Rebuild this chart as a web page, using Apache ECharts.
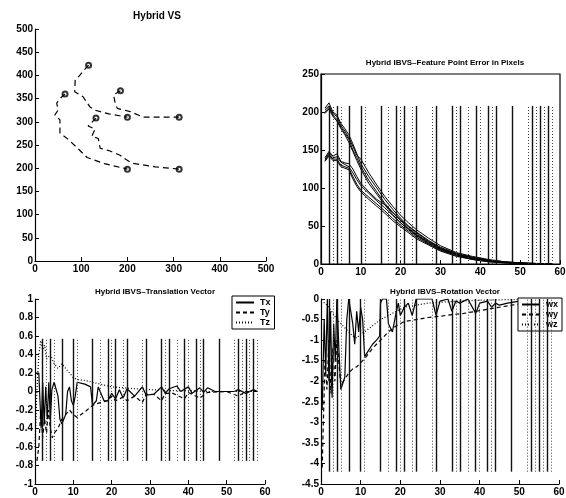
<!DOCTYPE html>
<html lang="en">
<head>
<meta charset="UTF-8">
<title>Hybrid VS</title>
<style>
  html, body { margin: 0; padding: 0; background: #fff; }
  #main { width: 566px; height: 498px; }
</style>
</head>
<body>
<div id="main"></div>
<script src="https://cdn.jsdelivr.net/npm/echarts@6/dist/echarts.min.js"></script>
<script>
// image plane trajectories (pixels)
var trajA = [[116,422],[105,410],[95,398],[87,390],[86,365],[104,354],[119,332],[130,325],[160,317],[200,310]];
var trajB = [[65,360],[52,348],[47,340],[50,325],[43,315],[54,304],[54,276],[72,262],[90,245],[113,223],[150,210],[200,198]];
var trajC = [[185,367],[170,358],[173,343],[178,329],[206,322],[234,310],[270,310],[312,310]];
var trajD = [[132,308],[115,291],[130,284],[123,269],[137,264],[141,243],[160,238],[184,228],[198,218],[209,211],[260,203],[312,198]];
var startPts = [[116,422],[65,360],[185,367],[132,308]];
var goalPts = [[200,310],[312,310],[200,198],[312,198]];

// feature point error
var tErr = [1,2,3,4,5,6,7,8,9,10,12,14,16,18,20,22,24,27,30,34,38,42,46,50,55,58];
var errU1 = [205,212,200,196,185,178,170,158,145,132,115,100,85,72,60,50,42,31,22,14,9,5,3,1.5,0.5,0.2];
var errU2 = [203,208,198,194,182,175,166,155,143,138,120,104,89,76,64,54,45,34,24,15,10,6,3,1.6,0.6,0.2];
var errU3 = [200,206,196,190,180,172,164,150,140,128,110,95,80,68,57,47,39,29,20,13,8,5,2.5,1.2,0.4,0.1];
var errU4 = [198,204,194,188,178,170,160,148,136,125,106,92,78,65,54,45,37,27,19,12,7,4,2,1,0.3,0.1];
var errL1 = [140,148,142,145,135,133,132,125,115,106,95,85,78,68,58,49,41,30,21,13,8,4,2,1,0.3,0.1];
var errL2 = [138,146,140,141,134,131,128,120,111,103,93,83,74,64,54,46,38,28,20,12,7,4,2,1,0.3,0.1];
var errL3 = [136,144,138,138,130,128,126,115,105,97,88,79,70,60,51,43,35,26,18,11,6,3,1.5,0.8,0.2,0.1];
var errL4 = [135,142,136,136,128,126,124,112,102,95,85,76,67,57,49,41,33,25,17,10,6,3,1.5,0.7,0.2,0.1];

// switching instants
var switchSolid = [2,4,7,10,15,19,21,24,29,33,35,39,42,44,48,53,55,57];
var switchDotted = [3,5,11,17,20,23,28,34,37,40,43,52,54,56,58];

// translation vector
var Tx = [[0,0.2],[1,0.2],[1.3,-0.1],[1.6,-0.4],[2,0.1],[2.4,-0.35],[2.8,0.05],[3.2,-0.3],[3.6,0.1],[4,-0.3],[4.4,0.02],[5,0.1],[5.5,0.12],[6,-0.05],[6.5,-0.3],[7,-0.35],[7.5,-0.3],[8,-0.25],[8.5,0],[9,0.05],[9.5,-0.1],[10,-0.15],[10.5,-0.05],[11,0.1],[13,0.08],[14.5,0.05],[15,-0.15],[16,-0.1],[16.5,0.05],[17,0],[18,-0.1],[19,-0.1],[20,-0.02],[21,-0.08],[22,0.02],[23,-0.07],[24,0.03],[26,-0.05],[28,0.05],[29,-0.04],[31,-0.03],[33,0.05],[34,-0.02],[35,0.03],[37,0.06],[38,0],[40,0.05],[41,-0.02],[43,0.04],[44,-0.01],[45,0.04],[47,0],[50,0],[52,0],[53,0.02],[55,-0.02],[57,0.02],[58,0]];
var Ty = [[0.5,-0.75],[1,-0.6],[1.5,-0.2],[2,-0.5],[2.5,-0.3],[3,-0.45],[3.5,-0.2],[4,-0.4],[4.5,-0.5],[5,-0.45],[6,-0.4],[7,-0.3],[8,-0.25],[9,-0.2],[10,-0.25],[11,-0.28],[13,-0.22],[15,-0.15],[17,-0.12],[19,-0.1],[20,-0.05],[21,-0.1],[23,-0.06],[24,-0.1],[26,-0.05],[28,-0.12],[29,-0.03],[31,-0.03],[33,-0.1],[34,-0.02],[36,-0.02],[39,-0.08],[40,-0.01],[43,-0.07],[45,-0.01],[50,0],[53,-0.05],[55,0],[58,0]];
var Tz = [[0,-0.6],[0.5,0],[1,0.4],[1.5,0.55],[2,0.45],[2.5,0.5],[3,0.35],[4,0.4],[5,0.3],[6,0.25],[7,0.3],[8,0.25],[9,0.2],[10,0.15],[11,0.13],[13,0.12],[15,0.1],[17,0.08],[20,0.05],[23,0.04],[26,0.03],[30,0.02],[35,0.01],[40,0.01],[45,0],[50,0],[55,0],[58,0]];

// rotation vector
var wx = [[0.3,-2.7],[0.8,-0.5],[1.2,-1.8],[1.6,0],[2,-2.0],[2.4,-0.3],[2.8,-2.4],[3.2,-0.6],[3.6,-1.5],[4,0],[4.5,-1.2],[5,-2.2],[6,-1.9],[6.5,-0.5],[7,0],[7.5,0],[8,-0.6],[8.5,-1.1],[9,-0.3],[9.5,-0.8],[10,-0.2],[10.5,-0.5],[11,-1.4],[12,-1.25],[13,-1.1],[14,-1.0],[14.8,-0.9],[15,-0.1],[15.5,0],[16.5,0],[17,-0.6],[18,-0.8],[19,-0.3],[19.5,-0.1],[20,-0.4],[21,-0.2],[22,-0.1],[23,-0.4],[24,0],[26,0],[28,0],[29,-0.4],[30,-0.05],[32,0],[33,-0.3],[34,-0.05],[35,-0.1],[37,0],[39,-0.35],[40,-0.1],[42,-0.05],[43,-0.2],[44,-0.1],[45,-0.15],[47,-0.1],[50,-0.05],[55,-0.02],[58,0]];
var wy = [[0.3,-4.1],[0.6,-3],[1,-1.5],[1.5,-2.2],[2,-1],[2.5,-2.3],[3,-1.2],[3.5,-2],[4,-1],[5,-2.1],[6,-1.95],[7,-1.8],[8,-1.7],[9,-1.65],[10,-1.55],[11,-1.45],[13,-1.2],[15,-1.0],[17,-0.8],[19,-0.65],[21,-0.55],[24,-0.5],[27,-0.45],[30,-0.42],[33,-0.38],[36,-0.35],[39,-0.3],[42,-0.25],[45,-0.2],[48,-0.15],[52,-0.1],[55,-0.08],[58,-0.05]];
var wz = [[0,-0.05],[1,-0.1],[2,-0.2],[3,-0.35],[4,-0.5],[5,-0.6],[6,-0.7],[7,-0.8],[8,-0.9],[9,-0.95],[10,-0.85],[11,-0.8],[13,-0.65],[15,-0.5],[17,-0.4],[19,-0.3],[21,-0.2],[24,-0.15],[27,-0.1],[30,-0.08],[35,-0.05],[40,-0.03],[45,-0.02],[50,-0.01],[58,0]];

var chart = echarts.init(document.getElementById('main'));
var FONT = 'Liberation Sans';

function pairs(xs, ys) {
  return xs.map(function (x, i) { return [x, ys[i]]; });
}

function vlines(xs, y0, y1) {
  return xs.map(function (x) { return [{ coord: [x, y0] }, { coord: [x, y1] }]; });
}

function xAxis(g, min, max, step) {
  return {
    type: 'value', gridIndex: g, min: min, max: max, interval: step,
    splitLine: { show: false },
    axisLine: { onZero: false, lineStyle: { color: '#000', width: 1.2 } },
    axisTick: { inside: true, length: 4, lineStyle: { color: '#000' } },
    axisLabel: { color: '#000', fontFamily: FONT, fontSize: 10, fontWeight: 'bold', margin: 3 }
  };
}
function yAxis(g, min, max, step) {
  return {
    type: 'value', gridIndex: g, min: min, max: max, interval: step,
    splitLine: { show: false },
    axisLine: { onZero: false, lineStyle: { color: '#000', width: 1.2 } },
    axisTick: { inside: true, length: 4, lineStyle: { color: '#000' } },
    axisLabel: { color: '#000', fontFamily: FONT, fontSize: 10, fontWeight: 'bold', margin: 2 }
  };
}

function line(name, g, data, type, width) {
  return {
    name: name, type: 'line', xAxisIndex: g, yAxisIndex: g, data: data,
    symbol: 'none', silent: true,
    itemStyle: { color: '#000' },
    lineStyle: { color: '#000', width: width || 1, type: type }
  };
}

function switchSeries(g, y0, y1) {
  return [
    {
      type: 'line', xAxisIndex: g, yAxisIndex: g, data: [], silent: true,
      markLine: {
        silent: true, symbol: ['none', 'none'], label: { show: false },
        lineStyle: { color: '#111', width: 1.4, type: 'solid' },
        data: vlines(switchSolid, y0, y1)
      }
    },
    {
      type: 'line', xAxisIndex: g, yAxisIndex: g, data: [], silent: true,
      markLine: {
        silent: true, symbol: ['none', 'none'], label: { show: false },
        lineStyle: { color: '#444', width: 1, type: [1, 2] },
        data: vlines(switchDotted, y0, y1)
      }
    }
  ];
}

var titleStyle = { color: '#000', fontFamily: FONT, fontWeight: 'bold', fontSize: 8 };

var series = [
  line('A', 0, trajA, [6, 4], 1.2),
  line('B', 0, trajB, [6, 4], 1.2),
  line('C', 0, trajC, [6, 4], 1.2),
  line('D', 0, trajD, [6, 4], 1.2),
  {
    type: 'scatter', xAxisIndex: 0, yAxisIndex: 0, silent: true,
    symbol: 'emptyCircle', symbolSize: 5,
    itemStyle: { color: '#000', borderColor: '#000', borderWidth: 1.2 },
    data: startPts.concat(goalPts)
  }
];

[errU1, errU2, errU3, errU4, errL1, errL2, errL3, errL4].forEach(function (e) {
  series.push(line('', 1, pairs(tErr, e), 'solid', 1));
});
series = series.concat(switchSeries(1, 0, 208));

series.push(line('Tx', 2, Tx, 'solid', 1.2));
series.push(line('Ty', 2, Ty, [4, 3], 1.2));
series.push(line('Tz', 2, Tz, [1, 2], 1.2));
series = series.concat(switchSeries(2, -0.75, 0.57));

series.push(line('wx', 3, wx, 'solid', 1.2));
series.push(line('wy', 3, wy, [4, 3], 1.2));
series.push(line('wz', 3, wz, [1, 2], 1.2));
series = series.concat(switchSeries(3, -4.2, 0));

var legendBase = {
  orient: 'vertical', itemGap: 1, itemWidth: 18, itemHeight: 7,
  padding: [2, 4, 2, 3], borderColor: '#000', borderWidth: 1, backgroundColor: '#fff',
  itemStyle: { opacity: 0 },
  textStyle: { color: '#000', fontFamily: FONT, fontSize: 9, fontWeight: 'bold', padding: [0, 0, 0, 1] },
  selectedMode: false
};

var option = {
  backgroundColor: '#fff',
  animation: false,
  title: [
    { text: 'Hybrid VS', left: 152, top: 6, textAlign: 'center', textStyle: Object.assign({}, titleStyle, { fontSize: 10 }) },
    { text: 'Hybrid IBVS\u2013Feature Point Error in Pixels', left: 440, top: 54, textAlign: 'center', textStyle: titleStyle },
    { text: 'Hybrid IBVS\u2013Translation Vector', left: 150, top: 283, textAlign: 'center', textStyle: titleStyle },
    { text: 'Hybrid IBVS\u2013Rotation Vector', left: 440, top: 283, textAlign: 'center', textStyle: titleStyle }
  ],
  legend: [
    Object.assign({ left: 232, top: 296, data: ['Tx', 'Ty', 'Tz'] }, legendBase),
    Object.assign({ right: 4, top: 298, data: ['wx', 'wy', 'wz'] }, legendBase)
  ],
  grid: [
    { left: 35, top: 29, width: 231, height: 232, containLabel: false, outerBoundsMode: 'none' },
    { left: 321, top: 74, width: 239, height: 190, containLabel: false, outerBoundsMode: 'none',
      show: true, borderColor: '#000', borderWidth: 1.2, backgroundColor: 'transparent' },
    { left: 35, top: 299, width: 230, height: 185, containLabel: false, outerBoundsMode: 'none' },
    { left: 321, top: 299, width: 238, height: 185, containLabel: false, outerBoundsMode: 'none' }
  ],
  xAxis: [xAxis(0, 0, 500, 100), xAxis(1, 0, 60, 10), xAxis(2, 0, 60, 10), xAxis(3, 0, 60, 10)],
  yAxis: [yAxis(0, 0, 500, 50), yAxis(1, 0, 250, 50), yAxis(2, -1, 1, 0.2), yAxis(3, -4.5, 0, 0.5)],
  series: series
};

chart.setOption(option);
</script>
</body>
</html>
